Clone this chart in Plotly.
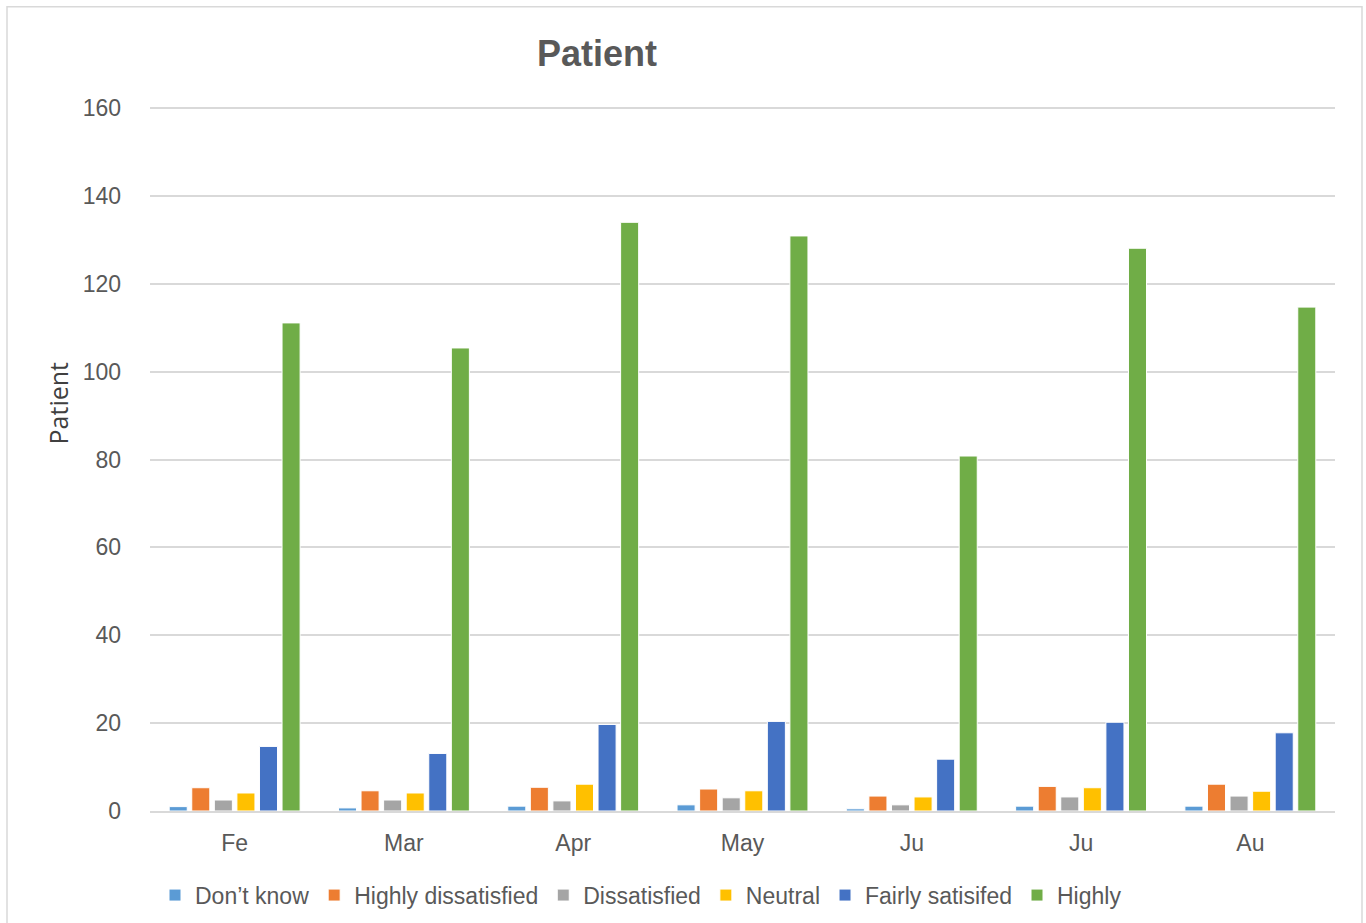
import plotly.graph_objects as go

# Monthly patient satisfaction counts
months = ["Fe", "Mar", "Apr", "May", "Ju", "Ju", "Au"]
dont_know = [1.0, 0.7, 1.1, 1.4, 0.5, 1.1, 1.1]
highly_dissatisfied = [5.3, 4.6, 5.4, 5.0, 3.4, 5.6, 6.1]
dissatisfied = [2.5, 2.5, 2.3, 3.0, 1.4, 3.2, 3.4]
neutral = [4.1, 4.1, 6.1, 4.6, 3.2, 5.3, 4.5]
fairly_satisfied = [14.7, 13.1, 19.7, 20.4, 11.8, 20.2, 17.8]
highly_satisfied = [111.1, 105.4, 134.0, 130.9, 80.8, 128.1, 114.7]

series = [
    ("Don\u2019t know", dont_know, "#5B9BD5"),
    ("Highly dissatisfied", highly_dissatisfied, "#ED7D31"),
    ("Dissatisfied", dissatisfied, "#A5A5A5"),
    ("Neutral", neutral, "#FFC000"),
    ("Fairly satisifed", fairly_satisfied, "#4472C4"),
    ("Highly", highly_satisfied, "#70AD47"),
]

FONT = "Liberation Sans, Arial"
positions = list(range(len(months)))

# plot area in pixels
L, R, T, B = 150, 1335, 108, 811
W, H = 1366, 923

fig = go.Figure()
for name, vals, color in series:
    fig.add_trace(go.Bar(
        x=positions, y=vals, name=name,
        marker=dict(color=color, line=dict(color="white", width=1)),
    ))

fig.update_layout(
    width=W, height=H,
    margin=dict(l=L, r=W - R, t=T - 1, b=H - B, autoexpand=False),
    paper_bgcolor="white", plot_bgcolor="white",
    barmode="group", bargap=0.2, bargroupgap=0.2,
    font=dict(family=FONT, color="#595959", size=23),
    title=dict(text="<b>Patient</b>", x=597 / W, xanchor="center",
               y=1 - 53 / H, yanchor="middle",
               font=dict(family=FONT, size=36, color="#595959")),
    xaxis=dict(tickvals=positions, ticktext=months, range=[-0.5, 6.5],
               showgrid=False, showline=True, linecolor="#d9d9d9", linewidth=1.5,
               ticks="", ticklabelstandoff=11, tickfont=dict(size=23)),
    yaxis=dict(range=[0, 160.25], tickvals=[0, 20, 40, 60, 80, 100, 120, 140, 160],
               showgrid=True, gridcolor="#d9d9d9",
               gridwidth=1.5, zeroline=False, showline=False, ticks="",
               ticklabelstandoff=28, tickfont=dict(size=23)),
    legend=dict(orientation="h", x=5 / (R - L), xanchor="left",
                y=-(895 - B) / (B - T), yanchor="middle",
                font=dict(size=23, color="#595959"), itemwidth=30,
                tracegroupgap=0, traceorder="normal"),
    showlegend=True,
)

# vertical axis title
fig.add_annotation(text="Patient", xref="paper", yref="paper",
                   x=(58 - L) / (R - L), y=(B - 403) / (B - T),
                   xanchor="center", yanchor="middle", textangle=-90,
                   showarrow=False,
                   font=dict(family="Open Sans, Liberation Sans", size=25,
                             color="#404040"))

# light chart-area border
fig.add_shape(type="rect", xref="paper", yref="paper",
              x0=(7 - L) / (R - L), x1=(1362 - L) / (R - L),
              y0=(B - 930) / (B - T), y1=(B - 8) / (B - T),
              line=dict(color="#d9d9d9", width=1.5), fillcolor="rgba(0,0,0,0)")

fig.write_html("out.html")
